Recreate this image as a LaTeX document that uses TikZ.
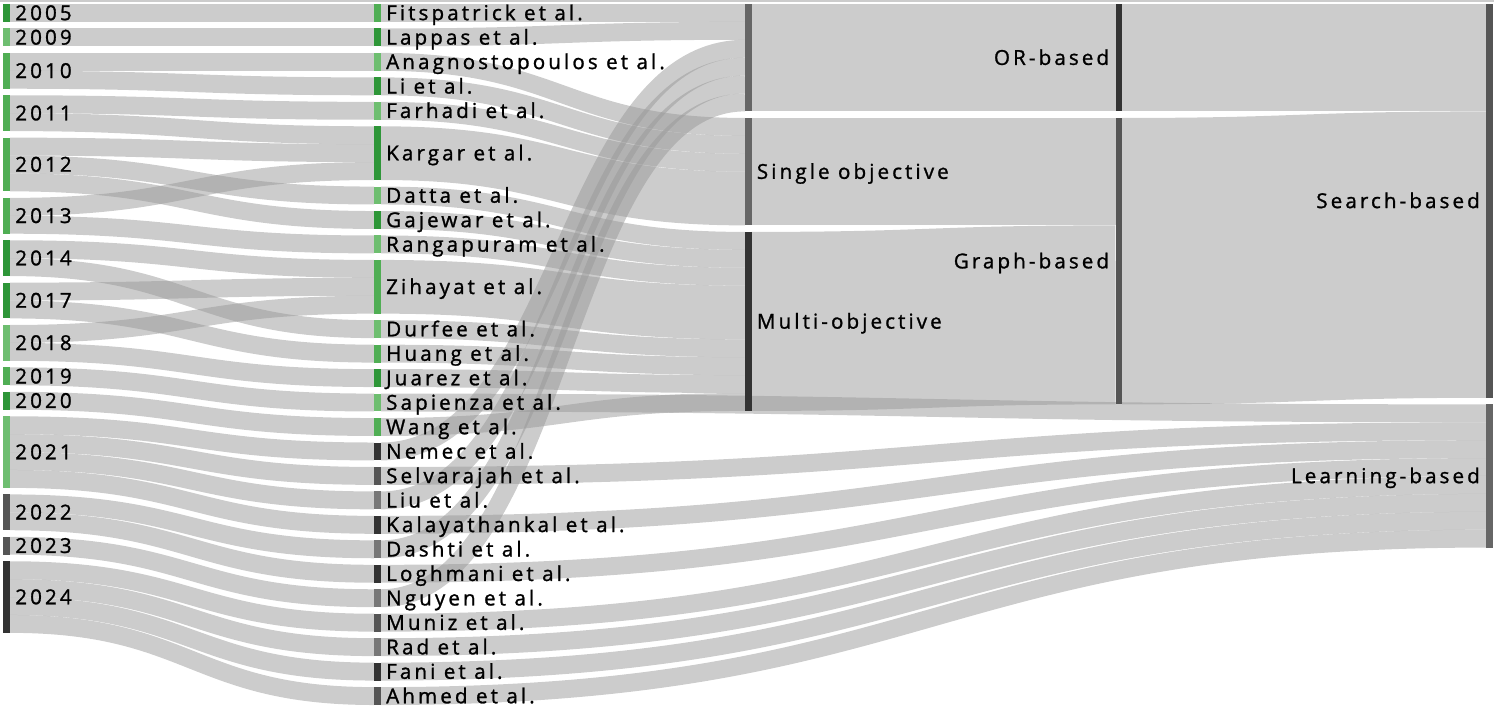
\documentclass[tikz,border=0pt]{standalone}
\usepackage{fontspec}
\setmainfont[LetterSpace=15, FakeBold=1.2]{Open Sans}
\usepackage{tikz}
\usetikzlibrary{calc, positioning}
\usepackage{xcolor}
\definecolor{gdark}{RGB}{46,150,56}
\definecolor{gmid}{RGB}{80,174,84}
\definecolor{glight}{RGB}{110,190,112}
\definecolor{gthree}{RGB}{51,51,51}
\definecolor{gfive}{RGB}{85,85,85}
\definecolor{gsix}{RGB}{102,102,102}
\definecolor{gseven}{RGB}{119,119,119}
\definecolor{linkgray}{RGB}{153,153,153}
\pgfdeclarelayer{bg}
\pgfsetlayers{bg,main}
% one unit of flow is 8.95pt high
\def\uw{8.95pt}
% \flow[ctrl]{source}{offset}{target}{offset}{units}
\newcommand{\flow}[6][182]{%
  \begin{pgfonlayer}{bg}
    \draw[flowband, line width=#6*\uw]
      ([yshift=-(#3+#6/2)*\uw]#2.north east) .. controls +(#1,0) and +(-#1,0) ..
      ([yshift=-(#5+#6/2)*\uw]#4.north west);
  \end{pgfonlayer}}

\begin{document}
\begin{tikzpicture}[x=0.5pt, y=-0.5pt, font=\fontsize{10.3pt}{12pt}\selectfont,
  bar/.style={fill=#1, draw=none, inner sep=0pt, outer sep=0pt,
    minimum width=3.3pt, anchor=north west},
  flowband/.style={draw=linkgray, draw opacity=0.5},
  ltxt/.style={inner sep=0pt, anchor=base west},
  rtxt/.style={inner sep=0pt, anchor=base east}]
  \useasboundingbox (0,0) rectangle (1504,709);
  \draw[black!20, line width=0.6pt] (0,1) -- (1494,1);

  % Years
  \node[bar=gdark, minimum height=1*\uw] (y2005) at (3.3,4) {};
  \node[bar=glight, minimum height=1*\uw] (y2009) at (3.3,28.46) {};
  \node[bar=gmid, minimum height=2*\uw] (y2010) at (3.3,52.92) {};
  \node[bar=gmid, minimum height=2*\uw] (y2011) at (3.3,95.28) {};
  \node[bar=gmid, minimum height=3*\uw] (y2012) at (3.3,137.64) {};
  \node[bar=gmid, minimum height=2*\uw] (y2013) at (3.3,197.9) {};
  \node[bar=gdark, minimum height=2*\uw] (y2014) at (3.3,240.26) {};
  \node[bar=gdark, minimum height=2*\uw] (y2017) at (3.3,282.62) {};
  \node[bar=glight, minimum height=2*\uw] (y2018) at (3.3,324.98) {};
  \node[bar=gmid, minimum height=1*\uw] (y2019) at (3.3,367.34) {};
  \node[bar=gdark, minimum height=1*\uw] (y2020) at (3.3,391.8) {};
  \node[bar=glight, minimum height=4*\uw] (y2021) at (3.3,416.26) {};
  \node[bar=gfive, minimum height=2*\uw] (y2022) at (3.3,494.42) {};
  \node[bar=gfive, minimum height=1*\uw] (y2023) at (3.3,536.78) {};
  \node[bar=gthree, minimum height=4*\uw] (y2024) at (3.3,561.24) {};
  \node[ltxt] (t2005) at ([xshift=2.5pt,yshift=-3.6pt]y2005.east) {2005};
  \node[ltxt] (t2009) at ([xshift=2.5pt,yshift=-3.6pt]y2009.east) {2009};
  \node[ltxt] (t2010) at ([xshift=2.5pt,yshift=-3.6pt]y2010.east) {2010};
  \node[ltxt] (t2011) at ([xshift=2.5pt,yshift=-3.6pt]y2011.east) {2011};
  \node[ltxt] (t2012) at ([xshift=2.5pt,yshift=-3.6pt]y2012.east) {2012};
  \node[ltxt] (t2013) at ([xshift=2.5pt,yshift=-3.6pt]y2013.east) {2013};
  \node[ltxt] (t2014) at ([xshift=2.5pt,yshift=-3.6pt]y2014.east) {2014};
  \node[ltxt] (t2017) at ([xshift=2.5pt,yshift=-3.6pt]y2017.east) {2017};
  \node[ltxt] (t2018) at ([xshift=2.5pt,yshift=-3.6pt]y2018.east) {2018};
  \node[ltxt] (t2019) at ([xshift=2.5pt,yshift=-3.6pt]y2019.east) {2019};
  \node[ltxt] (t2020) at ([xshift=2.5pt,yshift=-3.6pt]y2020.east) {2020};
  \node[ltxt] (t2021) at ([xshift=2.5pt,yshift=-3.6pt]y2021.east) {2021};
  \node[ltxt] (t2022) at ([xshift=2.5pt,yshift=-3.6pt]y2022.east) {2022};
  \node[ltxt] (t2023) at ([xshift=2.5pt,yshift=-3.6pt]y2023.east) {2023};
  \node[ltxt] (t2024) at ([xshift=2.5pt,yshift=-3.6pt]y2024.east) {2024};

  % Papers
  \node[bar=gmid, minimum height=1*\uw] (fitspatrick) at (374.2,4) {};
  \node[bar=gdark, minimum height=1*\uw] (lappas) at (374.2,28.46) {};
  \node[bar=glight, minimum height=1*\uw] (anagnostopoulos) at (374.2,52.92) {};
  \node[bar=gdark, minimum height=1*\uw] (li) at (374.2,77.38) {};
  \node[bar=glight, minimum height=1*\uw] (farhadi) at (374.2,101.84) {};
  \node[bar=gdark, minimum height=3*\uw] (kargar) at (374.2,126.3) {};
  \node[bar=glight, minimum height=1*\uw] (datta) at (374.2,186.56) {};
  \node[bar=gdark, minimum height=1*\uw] (gajewar) at (374.2,211.02) {};
  \node[bar=glight, minimum height=1*\uw] (rangapuram) at (374.2,235.48) {};
  \node[bar=gmid, minimum height=3*\uw] (zihayat) at (374.2,259.94) {};
  \node[bar=glight, minimum height=1*\uw] (durfee) at (374.2,320.2) {};
  \node[bar=gmid, minimum height=1*\uw] (huang) at (374.2,344.66) {};
  \node[bar=gdark, minimum height=1*\uw] (juarez) at (374.2,369.12) {};
  \node[bar=glight, minimum height=1*\uw] (sapienza) at (374.2,393.58) {};
  \node[bar=gmid, minimum height=1*\uw] (wang) at (374.2,418.04) {};
  \node[bar=gthree, minimum height=1*\uw] (nemec) at (374.2,442.5) {};
  \node[bar=gfive, minimum height=1*\uw] (selvarajah) at (374.2,466.96) {};
  \node[bar=gseven, minimum height=1*\uw] (liu) at (374.2,491.42) {};
  \node[bar=gthree, minimum height=1*\uw] (kalayathankal) at (374.2,515.88) {};
  \node[bar=gseven, minimum height=1*\uw] (dashti) at (374.2,540.34) {};
  \node[bar=gthree, minimum height=1*\uw] (loghmani) at (374.2,564.8) {};
  \node[bar=gseven, minimum height=1*\uw] (nguyen) at (374.2,589.26) {};
  \node[bar=gfive, minimum height=1*\uw] (muniz) at (374.2,613.72) {};
  \node[bar=gseven, minimum height=1*\uw] (rad) at (374.2,638.18) {};
  \node[bar=gthree, minimum height=1*\uw] (fani) at (374.2,662.64) {};
  \node[bar=gfive, minimum height=1*\uw] (ahmed) at (374.2,687.1) {};
  \node[ltxt] (tfitspatrick) at ([xshift=2.5pt,yshift=-3.6pt]fitspatrick.east) {Fitspatrick et al.};
  \node[ltxt] (tlappas) at ([xshift=2.5pt,yshift=-3.6pt]lappas.east) {Lappas et al.};
  \node[ltxt] (tanagnostopoulos) at ([xshift=2.5pt,yshift=-3.6pt]anagnostopoulos.east) {Anagnostopoulos et al.};
  \node[ltxt] (tli) at ([xshift=2.5pt,yshift=-3.6pt]li.east) {Li et al.};
  \node[ltxt] (tfarhadi) at ([xshift=2.5pt,yshift=-3.6pt]farhadi.east) {Farhadi et al.};
  \node[ltxt] (tkargar) at ([xshift=2.5pt,yshift=-3.6pt]kargar.east) {Kargar et al.};
  \node[ltxt] (tdatta) at ([xshift=2.5pt,yshift=-3.6pt]datta.east) {Datta et al.};
  \node[ltxt] (tgajewar) at ([xshift=2.5pt,yshift=-3.6pt]gajewar.east) {Gajewar et al.};
  \node[ltxt] (trangapuram) at ([xshift=2.5pt,yshift=-3.6pt]rangapuram.east) {Rangapuram et al.};
  \node[ltxt] (tzihayat) at ([xshift=2.5pt,yshift=-3.6pt]zihayat.east) {Zihayat et al.};
  \node[ltxt] (tdurfee) at ([xshift=2.5pt,yshift=-3.6pt]durfee.east) {Durfee et al.};
  \node[ltxt] (thuang) at ([xshift=2.5pt,yshift=-3.6pt]huang.east) {Huang et al.};
  \node[ltxt] (tjuarez) at ([xshift=2.5pt,yshift=-3.6pt]juarez.east) {Juarez et al.};
  \node[ltxt] (tsapienza) at ([xshift=2.5pt,yshift=-3.6pt]sapienza.east) {Sapienza et al.};
  \node[ltxt] (twang) at ([xshift=2.5pt,yshift=-3.6pt]wang.east) {Wang et al.};
  \node[ltxt] (tnemec) at ([xshift=2.5pt,yshift=-3.6pt]nemec.east) {Nemec et al.};
  \node[ltxt] (tselvarajah) at ([xshift=2.5pt,yshift=-3.6pt]selvarajah.east) {Selvarajah et al.};
  \node[ltxt] (tliu) at ([xshift=2.5pt,yshift=-3.6pt]liu.east) {Liu et al.};
  \node[ltxt] (tkalayathankal) at ([xshift=2.5pt,yshift=-3.6pt]kalayathankal.east) {Kalayathankal et al.};
  \node[ltxt] (tdashti) at ([xshift=2.5pt,yshift=-3.6pt]dashti.east) {Dashti et al.};
  \node[ltxt] (tloghmani) at ([xshift=2.5pt,yshift=-3.6pt]loghmani.east) {Loghmani et al.};
  \node[ltxt] (tnguyen) at ([xshift=2.5pt,yshift=-3.6pt]nguyen.east) {Nguyen et al.};
  \node[ltxt] (tmuniz) at ([xshift=2.5pt,yshift=-3.6pt]muniz.east) {Muniz et al.};
  \node[ltxt] (trad) at ([xshift=2.5pt,yshift=-3.6pt]rad.east) {Rad et al.};
  \node[ltxt] (tfani) at ([xshift=2.5pt,yshift=-3.6pt]fani.east) {Fani et al.};
  \node[ltxt] (tahmed) at ([xshift=2.5pt,yshift=-3.6pt]ahmed.east) {Ahmed et al.};

  % Objectives, methods, families
  \node[bar=gsix, minimum height=6*\uw] (objna) at (744.9,4) {};
  \node[bar=gsix, minimum height=6*\uw] (single) at (744.9,117.96) {};
  \node[bar=gthree, minimum height=10*\uw] (multi) at (744.9,231.92) {};
  \node[bar=gthree, minimum height=6*\uw] (orbased) at (1115.5,4) {};
  \node[bar=gfive, minimum height=16*\uw] (graphbased) at (1115.5,117.96) {};
  \node[bar=gfive, minimum height=22*\uw] (searchbased) at (1486.2,4) {};
  \node[bar=gsix, minimum height=8*\uw] (learningbased) at (1486.2,404.36) {};
  \node[ltxt] (tsingle) at ([xshift=2.5pt,yshift=-3.6pt]single.east) {Single objective};
  \node[ltxt] (tmulti) at ([xshift=2.5pt,yshift=-3.6pt]multi.east) {Multi-objective};
  \node[rtxt] (torbased) at ([xshift=-3pt,yshift=-3.6pt]orbased.west) {OR-based};
  \node[rtxt] (tgraphbased) at ([xshift=-3pt,yshift=-3.6pt]graphbased.west) {Graph-based};
  \node[rtxt] (tsearchbased) at ([xshift=-3pt,yshift=-3.6pt]searchbased.west) {Search-based};
  \node[rtxt] (tlearningbased) at ([xshift=-3pt,yshift=-3.6pt]learningbased.west) {Learning-based};

  % Year -> paper
  \flow{y2005}{0}{fitspatrick}{0}{1}
  \flow{y2009}{0}{lappas}{0}{1}
  \flow{y2010}{0}{anagnostopoulos}{0}{1}
  \flow{y2010}{1}{li}{0}{1}
  \flow{y2011}{0}{farhadi}{0}{1}
  \flow{y2011}{1}{kargar}{0}{1}
  \flow{y2012}{0}{kargar}{1}{1}
  \flow{y2012}{1}{datta}{0}{1}
  \flow{y2012}{2}{gajewar}{0}{1}
  \flow{y2013}{0}{kargar}{2}{1}
  \flow{y2013}{1}{rangapuram}{0}{1}
  \flow{y2014}{0}{zihayat}{0}{1}
  \flow{y2014}{1}{durfee}{0}{1}
  \flow{y2017}{0}{zihayat}{1}{1}
  \flow{y2017}{1}{huang}{0}{1}
  \flow{y2018}{0}{zihayat}{2}{1}
  \flow{y2018}{1}{juarez}{0}{1}
  \flow{y2019}{0}{sapienza}{0}{1}
  \flow{y2020}{0}{wang}{0}{1}
  \flow{y2021}{0}{nemec}{0}{1}
  \flow{y2021}{1}{selvarajah}{0}{1}
  \flow{y2021}{2}{liu}{0}{1}
  \flow{y2021}{3}{kalayathankal}{0}{1}
  \flow{y2022}{0}{dashti}{0}{1}
  \flow{y2022}{1}{loghmani}{0}{1}
  \flow{y2023}{0}{nguyen}{0}{1}
  \flow{y2024}{0}{muniz}{0}{1}
  \flow{y2024}{1}{rad}{0}{1}
  \flow{y2024}{2}{fani}{0}{1}
  \flow{y2024}{3}{ahmed}{0}{1}

  % Paper -> objective
  \flow{fitspatrick}{0}{objna}{0}{1}
  \flow{lappas}{0}{objna}{1}{1}
  \flow{nemec}{0}{objna}{2}{1}
  \flow{liu}{0}{objna}{3}{1}
  \flow{dashti}{0}{objna}{4}{1}
  \flow{nguyen}{0}{objna}{5}{1}
  \flow{anagnostopoulos}{0}{single}{0}{1}
  \flow{li}{0}{single}{1}{1}
  \flow{farhadi}{0}{single}{2}{1}
  \flow{kargar}{0}{single}{3}{3}
  \flow{datta}{0}{multi}{0}{1}
  \flow{gajewar}{0}{multi}{1}{1}
  \flow{rangapuram}{0}{multi}{2}{1}
  \flow{zihayat}{0}{multi}{3}{3}
  \flow{durfee}{0}{multi}{6}{1}
  \flow{huang}{0}{multi}{7}{1}
  \flow{juarez}{0}{multi}{8}{1}
  \flow{wang}{0}{multi}{9}{1}

  % Paper -> learning-based (long links)
  \flow[552.7]{sapienza}{0}{learningbased}{0}{1}
  \flow[552.7]{selvarajah}{0}{learningbased}{1}{1}
  \flow[552.7]{kalayathankal}{0}{learningbased}{2}{1}
  \flow[552.7]{loghmani}{0}{learningbased}{3}{1}
  \flow[552.7]{muniz}{0}{learningbased}{4}{1}
  \flow[552.7]{rad}{0}{learningbased}{5}{1}
  \flow[552.7]{fani}{0}{learningbased}{6}{1}
  \flow[552.7]{ahmed}{0}{learningbased}{7}{1}

  % Objective -> method -> family
  \flow{objna}{0}{orbased}{0}{6}
  \flow{single}{0}{graphbased}{0}{6}
  \flow{multi}{0}{graphbased}{6}{10}
  \flow{orbased}{0}{searchbased}{0}{6}
  \flow{graphbased}{0}{searchbased}{6}{16}
\end{tikzpicture}
\end{document}
